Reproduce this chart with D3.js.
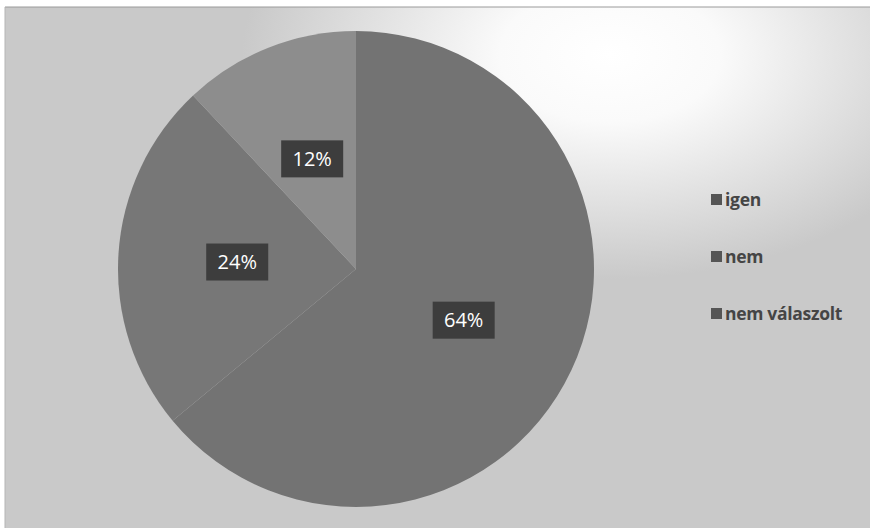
<!DOCTYPE html>
<html>
<head>
<meta charset="utf-8">
<script src="https://cdn.jsdelivr.net/npm/d3@7"></script>
<style>
    body { margin: 0; background: #ffffff; }
    svg { display: block; }
</style>
</head>
<body>
<div id="chart"></div>
<script>
// chart data
const categories = ['igen', 'nem', 'nem válaszolt'];
const values = [64, 24, 12];
const sliceColors = ['#737373', '#777777', '#8d8d8d'];

const width = 870, height = 528;
const cx = 356, cy = 269, radius = 238;

const svg = d3.select('#chart').append('svg')
    .attr('width', width)
    .attr('height', height);

const defs = svg.append('defs');
const glow = defs.append('radialGradient')
    .attr('id', 'glow')
    .attr('gradientUnits', 'userSpaceOnUse')
    .attr('cx', 610).attr('cy', 55).attr('r', 320)
    .attr('gradientTransform', 'translate(610,55) scale(1.15,0.7) translate(-610,-55)');
glow.append('stop').attr('offset', '0%').attr('stop-color', '#ffffff');
glow.append('stop').attr('offset', '30%').attr('stop-color', '#fafafa');
glow.append('stop').attr('offset', '100%').attr('stop-color', '#c9c9c9');

// chart area background
svg.append('rect')
    .attr('x', 0).attr('y', 0)
    .attr('width', width).attr('height', height)
    .attr('fill', '#ffffff');
svg.append('rect')
    .attr('x', 5).attr('y', 7)
    .attr('width', width - 5).attr('height', height - 7)
    .attr('fill', 'url(#glow)');
svg.append('line')
    .attr('x1', 5).attr('x2', width).attr('y1', 7).attr('y2', 7)
    .attr('stroke', '#9a9a9a').attr('stroke-width', 1);
svg.append('line')
    .attr('x1', 5).attr('x2', 5).attr('y1', 7).attr('y2', height)
    .attr('stroke', '#b5b5b5').attr('stroke-width', 1);

const pie = d3.pie().sort(null).value(d => d)(values);
const arc = d3.arc().innerRadius(0).outerRadius(radius);

const g = svg.append('g').attr('transform', 'translate(' + cx + ',' + cy + ')');

g.selectAll('path.slice').data(pie)
    .enter()
    .append('path')
    .attr('class', 'slice')
    .attr('d', arc)
    .attr('fill', (d, i) => sliceColors[i]);

// data labels
const labels = g.selectAll('g.label').data(pie)
    .enter()
    .append('g')
    .attr('class', 'label')
    .attr('transform', d => 'translate(' + arc.centroid(d) + ')');

labels.append('rect')
    .attr('x', -31).attr('y', -18)
    .attr('width', 62).attr('height', 37)
    .attr('fill', '#3d3d3d');

labels.append('text')
    .attr('text-anchor', 'middle')
    .attr('dy', '0.36em')
    .attr('fill', '#ffffff')
    .style('font-family', '"Open Sans", "DejaVu Sans", sans-serif')
    .style('font-size', '20px')
    .text(d => d.value + '%');

// legend
const legend = svg.append('g').attr('transform', 'translate(711,200)');
const items = legend.selectAll('g').data(categories)
    .enter()
    .append('g')
    .attr('transform', (d, i) => 'translate(0,' + (i * 57) + ')');

items.append('rect')
    .attr('x', 0).attr('y', -6)
    .attr('width', 11).attr('height', 11)
    .attr('fill', '#555555');

items.append('text')
    .attr('x', 14)
    .attr('dy', '0.35em')
    .attr('fill', '#454545')
    .style('font-family', '"Open Sans", sans-serif')
    .style('font-weight', 'bold')
    .style('font-size', '17.5px')
    .style('letter-spacing', '-0.3px')
    .text(d => d);
</script>
</body>
</html>
